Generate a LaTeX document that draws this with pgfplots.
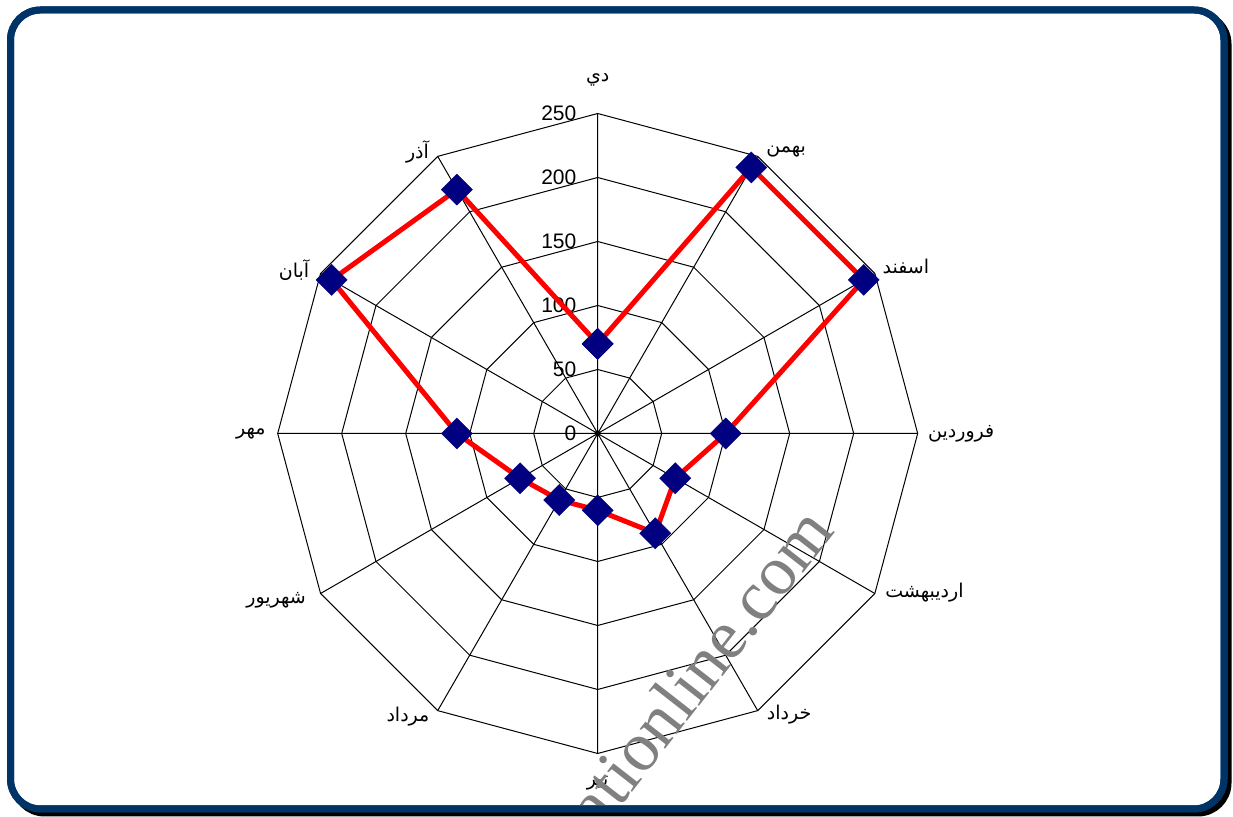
\documentclass[border=0pt]{standalone}
\usepackage{fontspec}
\setmainfont{Liberation Sans}
\newfontfamily\arabicfont[Script=Arabic]{DejaVu Sans}
\newfontfamily\wmfont{Liberation Serif}
\usepackage{pgfplots}
\pgfplotsset{compat=1.18}
\usepgfplotslibrary{polar}
\TeXXeTstate=1
\newcommand{\ar}[1]{{\arabicfont\beginR #1\endR}}

\definecolor{frameblue}{RGB}{0,51,102}
\definecolor{navy}{RGB}{0,0,128}
\definecolor{wmgray}{RGB}{128,128,128}

% one row per month, clockwise from the top
\pgfplotstableread{
angle value
90 70
60 240
30 240
0 100
-30 70
-60 90
-90 60
-120 60
-150 70
-180 110
-210 240
-240 220
-270 70
}\radar

\begin{document}
\begin{tikzpicture}
\useasboundingbox (0,0) rectangle (616.5pt,408.5pt);

% frame with shadow
\draw[black, line width=3.5pt, rounded corners=15pt] (7.25pt,2pt) rectangle (614pt,401.5pt);
\fill[white, rounded corners=15pt] (5.25pt,4pt) rectangle (612pt,403.5pt);
\draw[frameblue, line width=3.5pt, rounded corners=15pt] (5.25pt,4pt) rectangle (612pt,403.5pt);

\begin{polaraxis}[
    at={(298.85pt,191.75pt)}, anchor=center,
    width=320pt, height=320pt, scale only axis,
    ymin=0, ymax=250,
    xtick={0,30,...,330}, xticklabels={},
    ytick=\empty,
    xmajorgrids, x grid style={black, line width=0.5pt},
    axis line style={draw=none},
    major tick length=0pt,
    clip=false,
]
\pgfplotsinvokeforeach{50,100,150,200,250}{
  \addplot[black, line width=0.5pt, no markers] coordinates {
    (0,#1) (30,#1) (60,#1) (90,#1) (120,#1) (150,#1) (180,#1)
    (210,#1) (240,#1) (270,#1) (300,#1) (330,#1) (360,#1)};
  \node[anchor=east, inner sep=0pt, xshift=-10.5pt, font=\fontsize{10.5}{12}\selectfont] at (axis cs:90,#1) {#1};
}
\node[anchor=east, inner sep=0pt, xshift=-10.5pt, font=\fontsize{10.5}{12}\selectfont] at (axis cs:90,0) {0};

\addplot[red, line width=2.5pt, mark=square*, mark size=5.5pt,
  mark options={solid, rotate=45, fill=navy, draw=navy, line width=0.2pt}]
  table[x=angle, y=value] {\radar};

\begin{scope}[every node/.style={font=\fontsize{9.5}{12}\selectfont, inner sep=0pt}]
\node at (axis cs:90,276) {\ar{دي}};
\node at (axis cs:56.25,265) {\ar{بهمن}};
\node at (axis cs:28.5,274) {\ar{اسفند}};
\node at (axis cs:0,284) {\ar{فروردين}};
\node at (axis cs:-26,284) {\ar{ارديبهشت}};
\node at (axis cs:-55.8,266) {\ar{خرداد}};
\node at (axis cs:-90,273) {\ar{تير}};
\node at (axis cs:-123.8,266.5) {\ar{مرداد}};
\node at (axis cs:-152.6,283) {\ar{شهريور}};
\node at (axis cs:180,271) {\ar{مهر}};
\node at (axis cs:151.7,269.5) {\ar{آبان}};
\node at (axis cs:122.6,261.3) {\ar{آذر}};
\end{scope}
\end{polaraxis}

% watermark, cut by the frame
\begin{scope}
\clip (7pt,5.75pt) rectangle (610.25pt,401.75pt);
\node[wmgray, rotate=52, anchor=base east, inner sep=0pt, font=\wmfont\fontsize{35}{40}\selectfont] at (418pt,143pt) {ationline.com};
\end{scope}
\draw[frameblue, line width=3.5pt, rounded corners=15pt] (5.25pt,4pt) rectangle (612pt,403.5pt);
\end{tikzpicture}
\end{document}
